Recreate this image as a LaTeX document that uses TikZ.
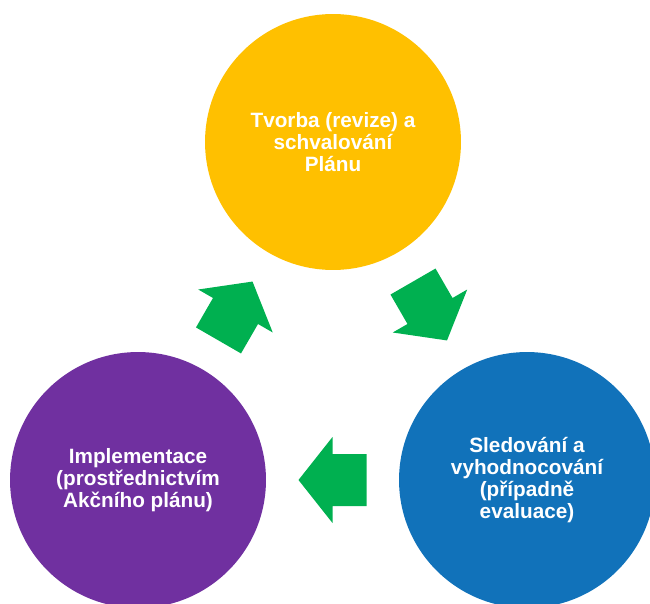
\documentclass[tikz,border=0pt]{standalone}
\usepackage{fontspec}
\setmainfont{Liberation Sans}
\usepackage{tikz}
\usepackage{xcolor}
\usetikzlibrary{positioning,calc}

\definecolor{planyellow}{HTML}{FFC000}
\definecolor{implpurple}{HTML}{7030A0}
\definecolor{evalblue}{HTML}{1172BA}
\definecolor{arrowgreen}{HTML}{00B050}

\tikzset{
  phase/.style={circle, minimum size=5.12cm, inner sep=0pt, text=white, align=center,
    font=\fontsize{11.8}{12.6}\selectfont\bfseries},
  cyclearrow/.pic={
    \fill[arrowgreen] (-34,-26) -- (0,-26) -- (0,-43) -- (34,0) -- (0,43) -- (0,26) -- (-34,26) -- cycle;
  }
}

\begin{document}
\begin{tikzpicture}[x=0.02cm, y=0.02cm]

\useasboundingbox (0,0) rectangle (650,603);

% Phases

\node[phase, fill=planyellow]  (PlanNode) at (333,461) {Tvorba (revize) a\\schvalování\\Plánu};
\node[phase, fill=implpurple]  (ImplNode) at (138,123) {Implementace\\(prostřednictvím\\Akčního plánu)};
\node[phase, fill=evalblue]    (EvalNode) at (527,123) {Sledování a\\vyhodnocování\\(případně\\evaluace)};

% Arrows between phases

\coordinate (ArrowImplPlan) at ($(ImplNode.center)!0.5!(PlanNode.center)$);
\coordinate (ArrowPlanEval) at ($(PlanNode.center)!0.5!(EvalNode.center)$);
\coordinate (ArrowEvalImpl) at ($(EvalNode.center)!0.5!(ImplNode.center)$);

\pic[rotate=60]  at (ArrowImplPlan) {cyclearrow};
\pic[rotate=-60] at (ArrowPlanEval) {cyclearrow};
\pic[rotate=180] at (ArrowEvalImpl) {cyclearrow};

\end{tikzpicture}
\end{document}
